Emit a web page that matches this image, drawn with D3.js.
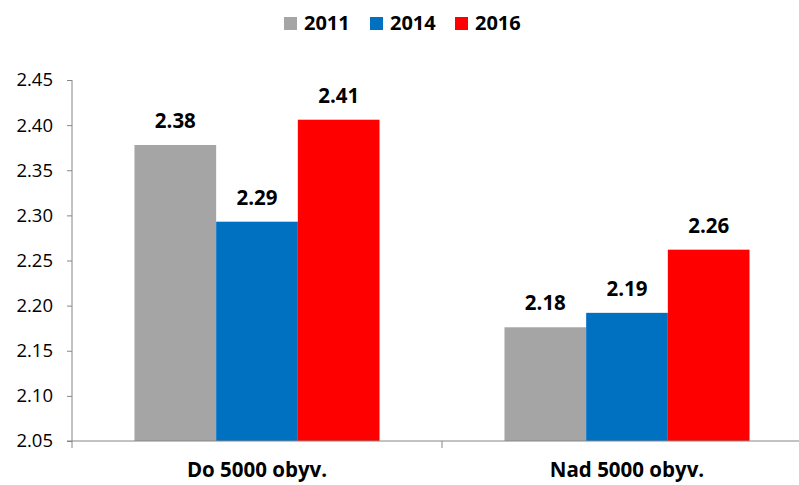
<!DOCTYPE html>
<html>
<head>
<meta charset="utf-8">
<script src="https://cdn.jsdelivr.net/npm/d3@7"></script>
<style>
  body { margin: 0; background: #fff; }
  svg { display: block; font-family: "Open Sans", sans-serif; }
</style>
</head>
<body>
<svg id="chart"></svg>
<script>
// data
const categories = ["Do 5000 obyv.", "Nad 5000 obyv."];
const years = ["2011", "2014", "2016"];
const values2011 = [2.378, 2.176];
const values2014 = [2.293, 2.192];
const values2016 = [2.406, 2.262];
const labels2011 = ["2.38", "2.18"];
const labels2014 = ["2.29", "2.19"];
const labels2016 = ["2.41", "2.26"];
const yTicks = [2.05, 2.10, 2.15, 2.20, 2.25, 2.30, 2.35, 2.40, 2.45];

const seriesValues = [values2011, values2014, values2016];
const seriesLabels = [labels2011, labels2014, labels2016];
const colors = ["#a5a5a5", "#0070c0", "#ff0000"];

const width = 799, height = 485;
const svg = d3.select("#chart")
    .attr("width", width)
    .attr("height", height);

const plotLeft = 72, plotRight = 812, plotTop = 80, plotBottom = 441;

// scales
const x0 = d3.scaleBand()
    .domain(categories)
    .range([plotLeft, plotRight]);

const x1 = d3.scaleBand()
    .domain(years)
    .range([0, x0.bandwidth()])
    .paddingOuter(0.765);

const y = d3.scaleLinear()
    .domain([2.05, 2.45])
    .range([plotBottom, plotTop]);

// bars
const groups = svg.append("g")
    .selectAll("g")
    .data(categories)
    .join("g")
    .attr("transform", d => `translate(${x0(d)},0)`);

years.forEach((yr, s) => {
    groups.append("rect")
        .attr("x", x1(yr))
        .attr("y", (d, i) => y(seriesValues[s][i]))
        .attr("width", x1.bandwidth())
        .attr("height", (d, i) => y(2.05) - y(seriesValues[s][i]))
        .attr("fill", colors[s]);

    groups.append("text")
        .attr("x", x1(yr) + x1.bandwidth() / 2)
        .attr("y", (d, i) => y(seriesValues[s][i]) - 17)
        .attr("text-anchor", "middle")
        .attr("font-size", 20.5)
        .attr("font-weight", "bold")
        .attr("fill", "#000")
        .text((d, i) => seriesLabels[s][i]);
});

// y axis
const yAxis = d3.axisLeft(y)
    .tickValues(yTicks)
    .tickFormat(d3.format(".2f"))
    .tickSizeInner(5)
    .tickSizeOuter(0)
    .tickPadding(14);

const gy = svg.append("g")
    .attr("transform", `translate(${plotLeft},0)`)
    .call(yAxis);
gy.select(".domain").remove();
gy.append("line")
    .attr("x1", 0).attr("x2", 0)
    .attr("y1", plotTop).attr("y2", plotBottom + 7)
    .attr("stroke", "#868686");
gy.selectAll(".tick line").attr("stroke", "#868686");
gy.selectAll(".tick text")
    .attr("font-size", 18.5)
    .attr("font-family", "Open Sans, sans-serif")
    .attr("fill", "#000");

// x axis
const gx = svg.append("g")
    .attr("transform", `translate(0,${plotBottom})`);
gx.append("line")
    .attr("x1", plotLeft - 5).attr("x2", plotRight)
    .attr("stroke", "#868686");
gx.selectAll(".sep")
    .data(categories.slice(1))
    .join("line")
    .attr("x1", d => x0(d)).attr("x2", d => x0(d))
    .attr("y1", 0).attr("y2", 7)
    .attr("stroke", "#868686");
gx.selectAll(".cat")
    .data(categories)
    .join("text")
    .attr("x", d => x0(d) + x0.bandwidth() / 2)
    .attr("y", 36)
    .attr("text-anchor", "middle")
    .attr("font-size", 20.5)
    .attr("font-weight", "bold")
    .attr("fill", "#000")
    .text(d => d);

// legend
const legendX = [284, 370, 455];
const legend = svg.append("g")
    .selectAll("g")
    .data(years)
    .join("g")
    .attr("transform", (d, i) => `translate(${legendX[i]},17)`);
legend.append("rect")
    .attr("width", 13).attr("height", 13)
    .attr("fill", (d, i) => colors[i]);
legend.append("text")
    .attr("x", 20)
    .attr("y", 13)
    .attr("font-size", 20)
    .attr("font-weight", "bold")
    .attr("fill", "#000")
    .text(d => d);
</script>
</body>
</html>
